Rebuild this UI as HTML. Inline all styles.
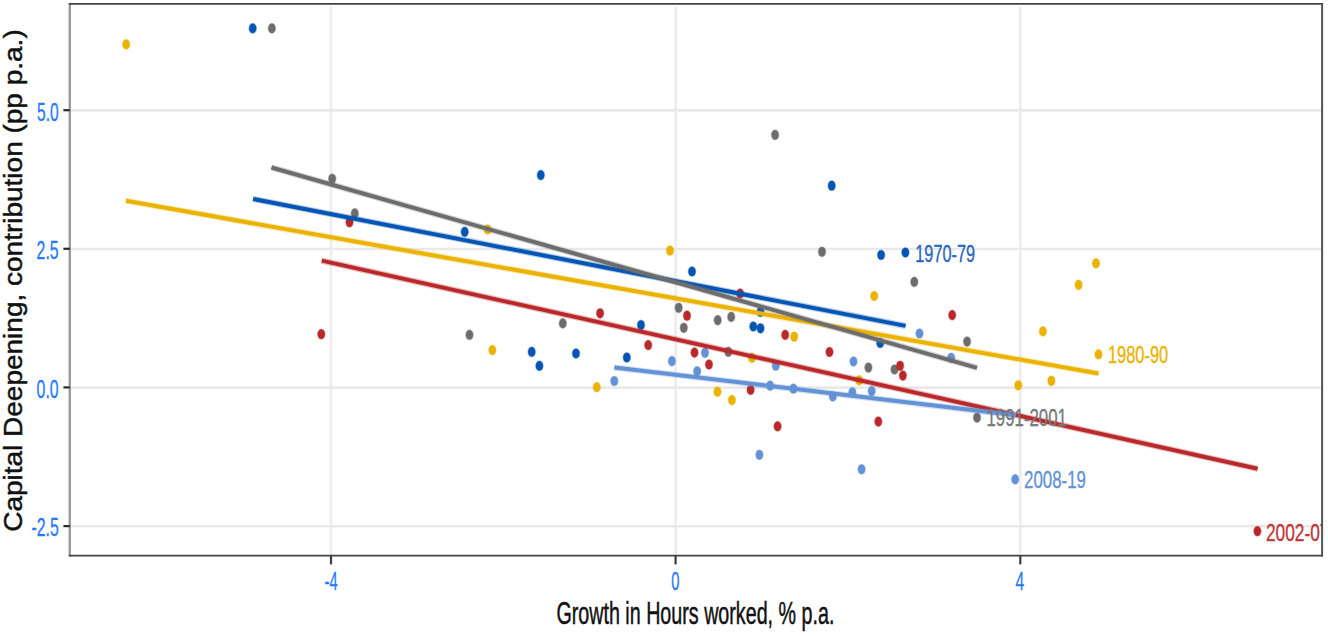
<!DOCTYPE html>
<html><head><meta charset="utf-8"><style>
html,body{margin:0;padding:0;background:#fff;}
svg{display:block;font-family:"Liberation Sans",sans-serif;}
</style></head><body>
<svg width="1328" height="636" viewBox="0 0 1328 636">
<rect width="1328" height="636" fill="#fff"/>
<g>
<defs><clipPath id="pc"><rect x="69.8" y="3.9" width="1252.3" height="551.7"/></clipPath></defs>
<line x1="331" y1="6.5" x2="331" y2="555.6" stroke="#ededed" stroke-width="2.6"/>
<line x1="675.6" y1="6.5" x2="675.6" y2="555.6" stroke="#ededed" stroke-width="2.6"/>
<line x1="1020.3" y1="6.5" x2="1020.3" y2="555.6" stroke="#ededed" stroke-width="2.6"/>
<line x1="69.8" y1="110.4" x2="1322.1" y2="110.4" stroke="#e9e9e9" stroke-width="2.6"/>
<line x1="69.8" y1="249.0" x2="1322.1" y2="249.0" stroke="#e9e9e9" stroke-width="2.6"/>
<line x1="69.8" y1="387.59999999999997" x2="1322.1" y2="387.59999999999997" stroke="#e9e9e9" stroke-width="2.6"/>
<line x1="69.8" y1="526.3000000000001" x2="1322.1" y2="526.3000000000001" stroke="#e9e9e9" stroke-width="2.6"/>
<g clip-path="url(#pc)"><g>
<ellipse cx="252.7" cy="28.4" rx="3.65" ry="4.85" fill="#0556b4" stroke="#0556b4" stroke-opacity="0.35" stroke-width="1.4"/>
<ellipse cx="540.8" cy="175.1" rx="3.65" ry="4.85" fill="#0556b4" stroke="#0556b4" stroke-opacity="0.35" stroke-width="1.4"/>
<ellipse cx="464.7" cy="231.9" rx="3.65" ry="4.85" fill="#0556b4" stroke="#0556b4" stroke-opacity="0.35" stroke-width="1.4"/>
<ellipse cx="692" cy="271.5" rx="3.65" ry="4.85" fill="#0556b4" stroke="#0556b4" stroke-opacity="0.35" stroke-width="1.4"/>
<ellipse cx="831.7" cy="185.7" rx="3.65" ry="4.85" fill="#0556b4" stroke="#0556b4" stroke-opacity="0.35" stroke-width="1.4"/>
<ellipse cx="881.1" cy="255" rx="3.65" ry="4.85" fill="#0556b4" stroke="#0556b4" stroke-opacity="0.35" stroke-width="1.4"/>
<ellipse cx="905.4" cy="252.5" rx="3.65" ry="4.85" fill="#0556b4" stroke="#0556b4" stroke-opacity="0.35" stroke-width="1.4"/>
<ellipse cx="531.7" cy="351.9" rx="3.65" ry="4.85" fill="#0556b4" stroke="#0556b4" stroke-opacity="0.35" stroke-width="1.4"/>
<ellipse cx="539.4" cy="365.9" rx="3.65" ry="4.85" fill="#0556b4" stroke="#0556b4" stroke-opacity="0.35" stroke-width="1.4"/>
<ellipse cx="576" cy="353.5" rx="3.65" ry="4.85" fill="#0556b4" stroke="#0556b4" stroke-opacity="0.35" stroke-width="1.4"/>
<ellipse cx="626.8" cy="357.5" rx="3.65" ry="4.85" fill="#0556b4" stroke="#0556b4" stroke-opacity="0.35" stroke-width="1.4"/>
<ellipse cx="641" cy="325" rx="3.65" ry="4.85" fill="#0556b4" stroke="#0556b4" stroke-opacity="0.35" stroke-width="1.4"/>
<ellipse cx="760.5" cy="312" rx="3.65" ry="4.85" fill="#0556b4" stroke="#0556b4" stroke-opacity="0.35" stroke-width="1.4"/>
<ellipse cx="753.3" cy="326.5" rx="3.65" ry="4.85" fill="#0556b4" stroke="#0556b4" stroke-opacity="0.35" stroke-width="1.4"/>
<ellipse cx="760.5" cy="328.3" rx="3.65" ry="4.85" fill="#0556b4" stroke="#0556b4" stroke-opacity="0.35" stroke-width="1.4"/>
<ellipse cx="880.2" cy="343" rx="3.65" ry="4.85" fill="#0556b4" stroke="#0556b4" stroke-opacity="0.35" stroke-width="1.4"/>
<ellipse cx="126.2" cy="44.4" rx="3.65" ry="4.85" fill="#eab300" stroke="#eab300" stroke-opacity="0.35" stroke-width="1.4"/>
<ellipse cx="487.6" cy="229.5" rx="3.65" ry="4.85" fill="#eab300" stroke="#eab300" stroke-opacity="0.35" stroke-width="1.4"/>
<ellipse cx="670" cy="250.6" rx="3.65" ry="4.85" fill="#eab300" stroke="#eab300" stroke-opacity="0.35" stroke-width="1.4"/>
<ellipse cx="874.2" cy="296" rx="3.65" ry="4.85" fill="#eab300" stroke="#eab300" stroke-opacity="0.35" stroke-width="1.4"/>
<ellipse cx="492.4" cy="350.1" rx="3.65" ry="4.85" fill="#eab300" stroke="#eab300" stroke-opacity="0.35" stroke-width="1.4"/>
<ellipse cx="596.8" cy="387.2" rx="3.65" ry="4.85" fill="#eab300" stroke="#eab300" stroke-opacity="0.35" stroke-width="1.4"/>
<ellipse cx="794.2" cy="336.7" rx="3.65" ry="4.85" fill="#eab300" stroke="#eab300" stroke-opacity="0.35" stroke-width="1.4"/>
<ellipse cx="752" cy="357.8" rx="3.65" ry="4.85" fill="#eab300" stroke="#eab300" stroke-opacity="0.35" stroke-width="1.4"/>
<ellipse cx="717.5" cy="391.7" rx="3.65" ry="4.85" fill="#eab300" stroke="#eab300" stroke-opacity="0.35" stroke-width="1.4"/>
<ellipse cx="731.9" cy="400.1" rx="3.65" ry="4.85" fill="#eab300" stroke="#eab300" stroke-opacity="0.35" stroke-width="1.4"/>
<ellipse cx="859.2" cy="380.4" rx="3.65" ry="4.85" fill="#eab300" stroke="#eab300" stroke-opacity="0.35" stroke-width="1.4"/>
<ellipse cx="1042.9" cy="331.4" rx="3.65" ry="4.85" fill="#eab300" stroke="#eab300" stroke-opacity="0.35" stroke-width="1.4"/>
<ellipse cx="1098.5" cy="354.4" rx="3.65" ry="4.85" fill="#eab300" stroke="#eab300" stroke-opacity="0.35" stroke-width="1.4"/>
<ellipse cx="1051.4" cy="380.8" rx="3.65" ry="4.85" fill="#eab300" stroke="#eab300" stroke-opacity="0.35" stroke-width="1.4"/>
<ellipse cx="1018.3" cy="385.3" rx="3.65" ry="4.85" fill="#eab300" stroke="#eab300" stroke-opacity="0.35" stroke-width="1.4"/>
<ellipse cx="1096" cy="263.3" rx="3.65" ry="4.85" fill="#eab300" stroke="#eab300" stroke-opacity="0.35" stroke-width="1.4"/>
<ellipse cx="1078.6" cy="284.9" rx="3.65" ry="4.85" fill="#eab300" stroke="#eab300" stroke-opacity="0.35" stroke-width="1.4"/>
<ellipse cx="271.9" cy="28.4" rx="3.65" ry="4.85" fill="#6d6d6d" stroke="#6d6d6d" stroke-opacity="0.35" stroke-width="1.4"/>
<ellipse cx="775.1" cy="134.9" rx="3.65" ry="4.85" fill="#6d6d6d" stroke="#6d6d6d" stroke-opacity="0.35" stroke-width="1.4"/>
<ellipse cx="332.2" cy="178.8" rx="3.65" ry="4.85" fill="#6d6d6d" stroke="#6d6d6d" stroke-opacity="0.35" stroke-width="1.4"/>
<ellipse cx="354.8" cy="213.4" rx="3.65" ry="4.85" fill="#6d6d6d" stroke="#6d6d6d" stroke-opacity="0.35" stroke-width="1.4"/>
<ellipse cx="822" cy="251.8" rx="3.65" ry="4.85" fill="#6d6d6d" stroke="#6d6d6d" stroke-opacity="0.35" stroke-width="1.4"/>
<ellipse cx="914.3" cy="281.9" rx="3.65" ry="4.85" fill="#6d6d6d" stroke="#6d6d6d" stroke-opacity="0.35" stroke-width="1.4"/>
<ellipse cx="469.5" cy="334.9" rx="3.65" ry="4.85" fill="#6d6d6d" stroke="#6d6d6d" stroke-opacity="0.35" stroke-width="1.4"/>
<ellipse cx="562.8" cy="323.4" rx="3.65" ry="4.85" fill="#6d6d6d" stroke="#6d6d6d" stroke-opacity="0.35" stroke-width="1.4"/>
<ellipse cx="678.7" cy="307.8" rx="3.65" ry="4.85" fill="#6d6d6d" stroke="#6d6d6d" stroke-opacity="0.35" stroke-width="1.4"/>
<ellipse cx="683.8" cy="327.8" rx="3.65" ry="4.85" fill="#6d6d6d" stroke="#6d6d6d" stroke-opacity="0.35" stroke-width="1.4"/>
<ellipse cx="717.7" cy="320.2" rx="3.65" ry="4.85" fill="#6d6d6d" stroke="#6d6d6d" stroke-opacity="0.35" stroke-width="1.4"/>
<ellipse cx="731.2" cy="316.9" rx="3.65" ry="4.85" fill="#6d6d6d" stroke="#6d6d6d" stroke-opacity="0.35" stroke-width="1.4"/>
<ellipse cx="728.3" cy="351.8" rx="3.65" ry="4.85" fill="#6d6d6d" stroke="#6d6d6d" stroke-opacity="0.35" stroke-width="1.4"/>
<ellipse cx="967.1" cy="341.6" rx="3.65" ry="4.85" fill="#6d6d6d" stroke="#6d6d6d" stroke-opacity="0.35" stroke-width="1.4"/>
<ellipse cx="868.4" cy="367.6" rx="3.65" ry="4.85" fill="#6d6d6d" stroke="#6d6d6d" stroke-opacity="0.35" stroke-width="1.4"/>
<ellipse cx="894.5" cy="369.5" rx="3.65" ry="4.85" fill="#6d6d6d" stroke="#6d6d6d" stroke-opacity="0.35" stroke-width="1.4"/>
<ellipse cx="977" cy="417.6" rx="3.65" ry="4.85" fill="#6d6d6d" stroke="#6d6d6d" stroke-opacity="0.35" stroke-width="1.4"/>
<ellipse cx="349.5" cy="222.3" rx="3.65" ry="4.85" fill="#b9292c" stroke="#b9292c" stroke-opacity="0.35" stroke-width="1.4"/>
<ellipse cx="321.3" cy="334.2" rx="3.65" ry="4.85" fill="#b9292c" stroke="#b9292c" stroke-opacity="0.35" stroke-width="1.4"/>
<ellipse cx="740.1" cy="293.5" rx="3.65" ry="4.85" fill="#b9292c" stroke="#b9292c" stroke-opacity="0.35" stroke-width="1.4"/>
<ellipse cx="600.1" cy="313.3" rx="3.65" ry="4.85" fill="#b9292c" stroke="#b9292c" stroke-opacity="0.35" stroke-width="1.4"/>
<ellipse cx="648.2" cy="345.1" rx="3.65" ry="4.85" fill="#b9292c" stroke="#b9292c" stroke-opacity="0.35" stroke-width="1.4"/>
<ellipse cx="687" cy="315.7" rx="3.65" ry="4.85" fill="#b9292c" stroke="#b9292c" stroke-opacity="0.35" stroke-width="1.4"/>
<ellipse cx="694.5" cy="352.6" rx="3.65" ry="4.85" fill="#b9292c" stroke="#b9292c" stroke-opacity="0.35" stroke-width="1.4"/>
<ellipse cx="709" cy="364.5" rx="3.65" ry="4.85" fill="#b9292c" stroke="#b9292c" stroke-opacity="0.35" stroke-width="1.4"/>
<ellipse cx="785.2" cy="334.9" rx="3.65" ry="4.85" fill="#b9292c" stroke="#b9292c" stroke-opacity="0.35" stroke-width="1.4"/>
<ellipse cx="829.5" cy="352" rx="3.65" ry="4.85" fill="#b9292c" stroke="#b9292c" stroke-opacity="0.35" stroke-width="1.4"/>
<ellipse cx="952.2" cy="315.1" rx="3.65" ry="4.85" fill="#b9292c" stroke="#b9292c" stroke-opacity="0.35" stroke-width="1.4"/>
<ellipse cx="900.1" cy="365.8" rx="3.65" ry="4.85" fill="#b9292c" stroke="#b9292c" stroke-opacity="0.35" stroke-width="1.4"/>
<ellipse cx="902.9" cy="375.6" rx="3.65" ry="4.85" fill="#b9292c" stroke="#b9292c" stroke-opacity="0.35" stroke-width="1.4"/>
<ellipse cx="750.6" cy="389.9" rx="3.65" ry="4.85" fill="#b9292c" stroke="#b9292c" stroke-opacity="0.35" stroke-width="1.4"/>
<ellipse cx="777.6" cy="426.4" rx="3.65" ry="4.85" fill="#b9292c" stroke="#b9292c" stroke-opacity="0.35" stroke-width="1.4"/>
<ellipse cx="878.3" cy="421.6" rx="3.65" ry="4.85" fill="#b9292c" stroke="#b9292c" stroke-opacity="0.35" stroke-width="1.4"/>
<ellipse cx="1257.4" cy="531.2" rx="3.65" ry="4.85" fill="#b9292c" stroke="#b9292c" stroke-opacity="0.35" stroke-width="1.4"/>
<ellipse cx="614.3" cy="381" rx="3.65" ry="4.85" fill="#6392d6" stroke="#6392d6" stroke-opacity="0.35" stroke-width="1.4"/>
<ellipse cx="671.9" cy="361.1" rx="3.65" ry="4.85" fill="#6392d6" stroke="#6392d6" stroke-opacity="0.35" stroke-width="1.4"/>
<ellipse cx="697.2" cy="371.3" rx="3.65" ry="4.85" fill="#6392d6" stroke="#6392d6" stroke-opacity="0.35" stroke-width="1.4"/>
<ellipse cx="705" cy="352.8" rx="3.65" ry="4.85" fill="#6392d6" stroke="#6392d6" stroke-opacity="0.35" stroke-width="1.4"/>
<ellipse cx="775.8" cy="365.7" rx="3.65" ry="4.85" fill="#6392d6" stroke="#6392d6" stroke-opacity="0.35" stroke-width="1.4"/>
<ellipse cx="770.1" cy="385.7" rx="3.65" ry="4.85" fill="#6392d6" stroke="#6392d6" stroke-opacity="0.35" stroke-width="1.4"/>
<ellipse cx="793.4" cy="388.7" rx="3.65" ry="4.85" fill="#6392d6" stroke="#6392d6" stroke-opacity="0.35" stroke-width="1.4"/>
<ellipse cx="832.8" cy="396.5" rx="3.65" ry="4.85" fill="#6392d6" stroke="#6392d6" stroke-opacity="0.35" stroke-width="1.4"/>
<ellipse cx="853.5" cy="361.5" rx="3.65" ry="4.85" fill="#6392d6" stroke="#6392d6" stroke-opacity="0.35" stroke-width="1.4"/>
<ellipse cx="852.4" cy="392.3" rx="3.65" ry="4.85" fill="#6392d6" stroke="#6392d6" stroke-opacity="0.35" stroke-width="1.4"/>
<ellipse cx="871.7" cy="391.1" rx="3.65" ry="4.85" fill="#6392d6" stroke="#6392d6" stroke-opacity="0.35" stroke-width="1.4"/>
<ellipse cx="919.5" cy="333.5" rx="3.65" ry="4.85" fill="#6392d6" stroke="#6392d6" stroke-opacity="0.35" stroke-width="1.4"/>
<ellipse cx="951.2" cy="357.8" rx="3.65" ry="4.85" fill="#6392d6" stroke="#6392d6" stroke-opacity="0.35" stroke-width="1.4"/>
<ellipse cx="759.4" cy="454.8" rx="3.65" ry="4.85" fill="#6392d6" stroke="#6392d6" stroke-opacity="0.35" stroke-width="1.4"/>
<ellipse cx="861.6" cy="469.3" rx="3.65" ry="4.85" fill="#6392d6" stroke="#6392d6" stroke-opacity="0.35" stroke-width="1.4"/>
<ellipse cx="1015.2" cy="479.4" rx="3.65" ry="4.85" fill="#6392d6" stroke="#6392d6" stroke-opacity="0.35" stroke-width="1.4"/>
<line x1="253.0" y1="198.9" x2="905.6" y2="325.9" stroke="#0556b4" stroke-width="6.2" stroke-opacity="0.3" stroke-linecap="butt"/><line x1="253.0" y1="198.9" x2="905.6" y2="325.9" stroke="#0556b4" stroke-width="4.0" stroke-linecap="butt"/>
<line x1="125.9" y1="200.8" x2="1098.6" y2="373.5" stroke="#eab300" stroke-width="6.2" stroke-opacity="0.3" stroke-linecap="butt"/><line x1="125.9" y1="200.8" x2="1098.6" y2="373.5" stroke="#eab300" stroke-width="4.0" stroke-linecap="butt"/>
<line x1="271.4" y1="167.5" x2="977.0" y2="367.8" stroke="#6d6d6d" stroke-width="6.2" stroke-opacity="0.3" stroke-linecap="butt"/><line x1="271.4" y1="167.5" x2="977.0" y2="367.8" stroke="#6d6d6d" stroke-width="4.0" stroke-linecap="butt"/>
<line x1="321.7" y1="260.6" x2="1257.6" y2="468.7" stroke="#b9292c" stroke-width="6.2" stroke-opacity="0.3" stroke-linecap="butt"/><line x1="321.7" y1="260.6" x2="1257.6" y2="468.7" stroke="#b9292c" stroke-width="4.0" stroke-linecap="butt"/>
<line x1="614.3" y1="367.5" x2="1016" y2="415.3" stroke="#6392d6" stroke-width="6.2" stroke-opacity="0.3" stroke-linecap="butt"/><line x1="614.3" y1="367.5" x2="1016" y2="415.3" stroke="#6392d6" stroke-width="4.0" stroke-linecap="butt"/>
<text x="915.3" y="261.6" font-size="24.5" fill="#2a66bd" stroke="#2a66bd" stroke-width="0.35" textLength="59.700000000000045" lengthAdjust="spacingAndGlyphs">1970-79</text>
<text x="1108.0" y="362.8" font-size="24.5" fill="#eab300" stroke="#eab300" stroke-width="0.35" textLength="60.200000000000045" lengthAdjust="spacingAndGlyphs">1980-90</text>
<text x="986.4" y="426.4" font-size="24.5" fill="#787878" stroke="#787878" stroke-width="0.35" textLength="80.60000000000002" lengthAdjust="spacingAndGlyphs">1991-2001</text>
<text x="1024.0" y="487.8" font-size="24.5" fill="#6392d6" stroke="#6392d6" stroke-width="0.35" textLength="61.90000000000009" lengthAdjust="spacingAndGlyphs">2008-19</text>
<text x="1266.0" y="541.0" font-size="24.5" fill="#c03538" stroke="#c03538" stroke-width="0.35" textLength="63.5" lengthAdjust="spacingAndGlyphs">2002-07</text>
</g></g>
<line x1="69.8" y1="2.9" x2="69.8" y2="556.6" stroke="#9a9a9a" stroke-width="2.4"/>
<line x1="68.8" y1="3.9" x2="1323.1" y2="3.9" stroke="#444" stroke-width="1.9"/>
<line x1="68.8" y1="555.6" x2="1323.1" y2="555.6" stroke="#444" stroke-width="1.9"/>
<line x1="1322.1" y1="2.9" x2="1322.1" y2="556.6" stroke="#555" stroke-width="2"/>
<line x1="331" y1="555.6" x2="331" y2="564.4" stroke="#3d3d3d" stroke-width="2.2"/>
<line x1="675.6" y1="555.6" x2="675.6" y2="564.4" stroke="#3d3d3d" stroke-width="2.2"/>
<line x1="1020.3" y1="555.6" x2="1020.3" y2="564.4" stroke="#3d3d3d" stroke-width="2.2"/>
<line x1="63.4" y1="110.2" x2="69.8" y2="110.2" stroke="#2a2a2a" stroke-width="2.2"/>
<line x1="63.4" y1="248.8" x2="69.8" y2="248.8" stroke="#2a2a2a" stroke-width="2.2"/>
<line x1="63.4" y1="387.4" x2="69.8" y2="387.4" stroke="#2a2a2a" stroke-width="2.2"/>
<line x1="63.4" y1="526.1" x2="69.8" y2="526.1" stroke="#2a2a2a" stroke-width="2.2"/>
<text x="324.6" y="589.8" font-size="25.2" fill="#2479ff" stroke="#2479ff" stroke-width="0.3" textLength="13.099999999999966" lengthAdjust="spacingAndGlyphs">-4</text>
<text x="671.2" y="589.8" font-size="25.2" fill="#2479ff" stroke="#2479ff" stroke-width="0.3" textLength="8.199999999999932" lengthAdjust="spacingAndGlyphs">0</text>
<text x="1015.5" y="589.8" font-size="25.2" fill="#2479ff" stroke="#2479ff" stroke-width="0.3" textLength="8.700000000000045" lengthAdjust="spacingAndGlyphs">4</text>
<text x="37.0" y="120.8" font-size="25.2" fill="#2479ff" stroke="#2479ff" stroke-width="0.3" textLength="21.6" lengthAdjust="spacingAndGlyphs">5.0</text>
<text x="36.6" y="258.7" font-size="25.2" fill="#2479ff" stroke="#2479ff" stroke-width="0.3" textLength="22.0" lengthAdjust="spacingAndGlyphs">2.5</text>
<text x="36.6" y="398.2" font-size="25.2" fill="#2479ff" stroke="#2479ff" stroke-width="0.3" textLength="22.0" lengthAdjust="spacingAndGlyphs">0.0</text>
<text x="31.4" y="536.1" font-size="25.2" fill="#2479ff" stroke="#2479ff" stroke-width="0.3" textLength="27.4" lengthAdjust="spacingAndGlyphs">-2.5</text>
<text x="556.4" y="624.3" font-size="31.8" fill="#111" stroke="#111" stroke-width="0.5" textLength="278" lengthAdjust="spacingAndGlyphs">Growth in Hours worked, % p.a.</text>
<text transform="translate(21.6,531.8) rotate(-90)" x="0" y="0" font-size="25" fill="#111" stroke="#111" stroke-width="0.45" textLength="502.5" lengthAdjust="spacingAndGlyphs">Capital Deepening, contribution (pp p.a.)</text>
</g>
</svg>
</body></html>
